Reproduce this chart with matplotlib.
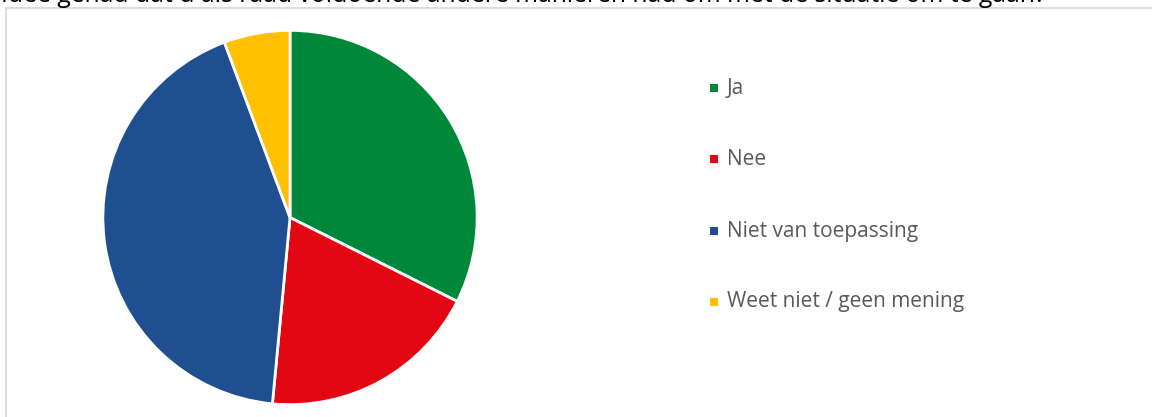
import matplotlib.pyplot as plt
from matplotlib.patches import Rectangle

plt.rcParams['font.family'] = ['Open Sans', 'DejaVu Sans']

# data
labels = ['Ja', 'Nee', 'Niet van toepassing', 'Weet niet / geen mening']
values = [32.4, 19.1, 42.8, 5.7]
colors = ['#00883A', '#E30613', '#1F4E91', '#FFC000']
title = 'Idee gehad dat u als raad voldoende andere manieren had om met de situatie om te gaan?'

W, H = 1152, 417
fig = plt.figure(figsize=(W / 100, H / 100), dpi=100)

# chart frame (cut off right and bottom)
fig.add_artist(Rectangle((6 / W, -0.1), 1.2, 1 - 7.5 / H + 0.1, transform=fig.transFigure,
                         facecolor='none', edgecolor='#D9D9D9', linewidth=1.3))

# title text, cut off at the top like in the source image
fig.text(1 / W, 1 - 2 / H, title, fontsize=17.8, color='#000000', va='baseline', ha='left')

# pie
cx, cy, r = 290, 417 - 217.5, 189
ax = fig.add_axes([(cx - r) / W, (cy - r) / H, 2 * r / W, 2 * r / H])
ax.pie(values, colors=colors, startangle=90, counterclock=False, radius=1,
       wedgeprops=dict(edgecolor='white', linewidth=2))
ax.set_xlim(-1.01, 1.01)
ax.set_ylim(-1.01, 1.01)
ax.set_aspect('equal')
ax.axis('off')

# legend
rows = [88, 159, 231, 302]
for lab, col, yy in zip(labels, colors, rows):
    fig.add_artist(Rectangle((710 / W, 1 - (yy + 4) / H), 8 / W, 8 / H,
                             transform=fig.transFigure, facecolor=col, edgecolor='none'))
    fig.text(727 / W, 1 - yy / H, lab, fontsize=15, color='#595959', va='center', ha='left')

fig.savefig('out.png', dpi=100)
